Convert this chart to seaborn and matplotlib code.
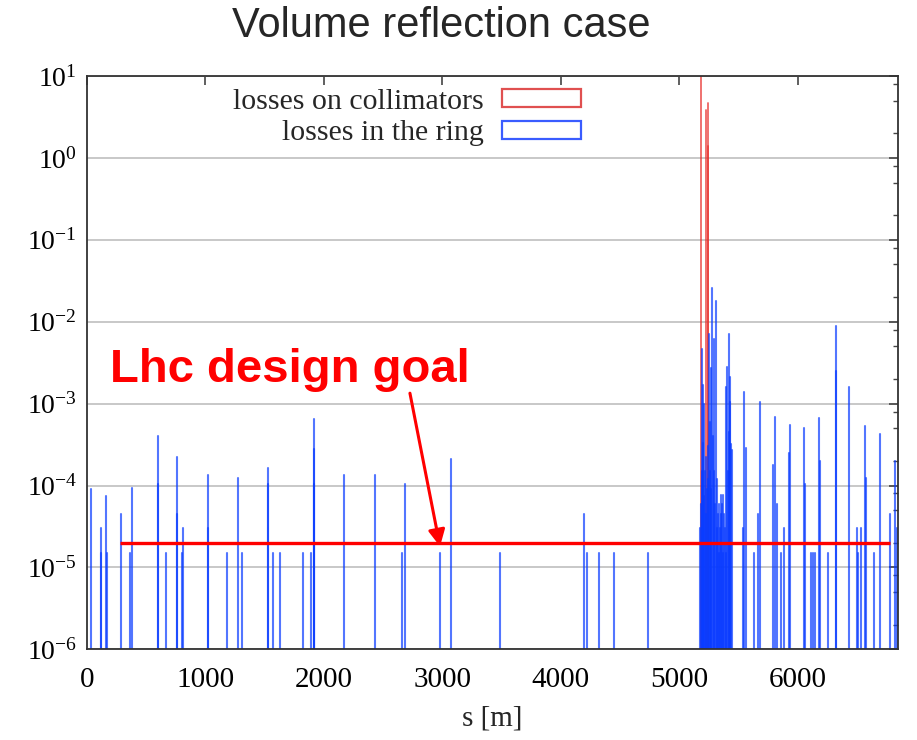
import numpy as np
import pandas as pd
import matplotlib
matplotlib.use("Agg")
import matplotlib.pyplot as plt
import seaborn as sns
from matplotlib.ticker import FixedLocator, NullFormatter, LogFormatterSciNotation
from matplotlib.patches import Patch

# ---------------- data ----------------
ring_s = [33, 121, 121, 162, 173, 286, 367, 379, 598, 598, 668, 764, 764, 801, 815,
          1020, 1020, 1186, 1276, 1313, 1532, 1532, 1569, 1633, 1827, 1889, 1915, 1915, 1915,
          2173, 2432, 2657, 2685, 2978, 3071, 3490, 4193, 4218, 4320, 4449, 4736,
          5178, 5183, 5189, 5193, 5197, 5200, 5205, 5210, 5216, 5222, 5228, 5234, 5240, 5246,
          5251, 5257, 5262, 5265, 5270, 5278, 5284, 5290, 5296, 5302, 5310, 5316, 5320, 5326,
          5332, 5338, 5344, 5349, 5355, 5360, 5366, 5373, 5379, 5385, 5391, 5397, 5405, 5411,
          5417, 5422, 5428, 5432, 5437, 5442,
          5540, 5549, 5563, 5630, 5667, 5681, 5794, 5805, 5822, 5861, 5884, 5923, 5934,
          6050, 6061, 6111, 6131, 6148, 6179, 6190, 6258, 6325, 6325, 6435, 6500, 6511,
          6531, 6565, 6576, 6643, 6691, 6781, 6822, 6834]
ring_loss = [9.0e-5, 3.0e-5, 1.5e-5, 7.5e-5, 1.5e-5, 4.5e-5, 1.5e-5, 9.3e-5, 4.0e-4, 1.05e-4,
             1.5e-5, 2.25e-4, 4.5e-5, 1.5e-5, 3.0e-5,
             1.35e-4, 3.0e-5, 1.5e-5, 1.22e-4, 1.5e-5, 1.65e-4, 1.05e-4, 1.5e-5, 1.5e-5, 1.5e-5,
             1.5e-5, 6.4e-4, 2.8e-4, 1.05e-4,
             1.35e-4, 1.35e-4, 1.5e-5, 1.05e-4, 1.5e-5, 2.1e-4, 1.5e-5, 4.5e-5, 1.5e-5, 1.5e-5,
             1.5e-5, 1.5e-5,
             3.0e-5, 6.0e-5, 4.6e-3, 1.5e-4, 1.7e-3, 3.3e-4, 7.5e-5, 1.0e-3, 1.5e-4, 4.5e-5,
             2.2e-4, 9.0e-5, 3.0e-4, 1.2e-4,
             7.1e-3, 6.0e-4, 1.5e-4, 2.7e-3, 9.0e-5, 2.6e-2, 4.0e-4, 6.2e-3, 1.5e-4, 6.0e-5,
             1.8e-2, 1.2e-4, 3.0e-5, 4.5e-5,
             1.5e-5, 6.0e-5, 3.0e-5, 7.6e-5, 4.5e-5, 6.0e-5, 1.5e-5, 7.6e-5, 4.5e-5, 3.0e-5,
             1.5e-5, 1.6e-3, 2.8e-3, 1.5e-4,
             4.5e-4, 7.1e-3, 1.05e-3, 2.1e-3, 3.2e-4, 2.7e-4,
             3.0e-5, 1.4e-3, 2.9e-4, 1.5e-5, 4.5e-5, 1.05e-3, 1.8e-4, 6.9e-4, 6.0e-5, 1.5e-5,
             3.0e-5, 2.5e-4, 5.5e-4,
             5.1e-4, 1.05e-4, 1.5e-5, 1.5e-5, 1.5e-5, 6.7e-4, 2.0e-4, 1.5e-5, 8.8e-3, 2.5e-3,
             1.6e-3, 3.0e-5, 1.5e-5,
             3.0e-5, 5.3e-4, 1.22e-4, 1.5e-5, 4.3e-4, 4.5e-5, 2.0e-4, 3.0e-5]
coll_s = [5180, 5225, 5240, 5245]
coll_loss = [15.0, 3.8, 4.7, 1.4]

goal_loss = 2e-5
goal_span = [280, 6780]
arrow_tip = (2981, 1.8e-5)
arrow_tail = (2727, 1.34e-3)

x_ticks = [0, 1000, 2000, 3000, 4000, 5000, 6000]
y_decades = [-6, -5, -4, -3, -2, -1, 0, 1]
y_minor_subs = [2, 5, 8]
x_range = (0, 6846)
y_range = (1e-6, 10)

series_labels = ["losses on collimators", "losses in the ring"]
title_text = "Volume reflection case"
goal_text = "Lhc design goal"
x_label = "s [m]"


def impulses(s, v, floor):
    n = len(s)
    return pd.DataFrame({
        "s": np.repeat(np.asarray(s, float), 2),
        "loss": np.column_stack([np.full(n, floor), np.asarray(v, float)]).ravel(),
        "unit": np.repeat(np.arange(n), 2),
    })


# ---------------- styling ----------------
sns.set_theme(style="white")
plt.rcParams["font.family"] = ["Liberation Serif", "DejaVu Serif"]
plt.rcParams["mathtext.fontset"] = "stix"

W, H = 917, 740
fig = plt.figure(figsize=(W / 100, H / 100), dpi=100)
ax_l, ax_r, ax_t, ax_b = 86.8, 898.0, 76.0, 649.3
ax = fig.add_axes([ax_l / W, 1 - ax_b / H, (ax_r - ax_l) / W, (ax_b - ax_t) / H])

red = "#e8322f"
blue = "#0a3cff"

coll_df = impulses(coll_s, coll_loss, y_range[0])
ring_df = impulses(ring_s, ring_loss, y_range[0])

sns.lineplot(data=coll_df, x="s", y="loss", units="unit", estimator=None, sort=False,
             color=red, lw=1.3, alpha=0.75, legend=False, ax=ax)
sns.lineplot(data=ring_df, x="s", y="loss", units="unit", estimator=None, sort=False,
             color=blue, lw=1.5, alpha=0.7, legend=False, ax=ax)

ax.set_yscale("log")
ax.set_xlim(*x_range)
ax.set_ylim(*y_range)

# design goal line + arrow
ax.plot(goal_span, [goal_loss, goal_loss], color="#ff0000", lw=2.4, zorder=6,
        solid_capstyle="butt")
ax.annotate("", xy=arrow_tip, xytext=arrow_tail,
            arrowprops=dict(arrowstyle="-|>", color="#ff0000", lw=2.2,
                            mutation_scale=25, shrinkA=0, shrinkB=0), zorder=7)

# axes decoration
major_y = [10.0 ** d for d in y_decades]
minor_y = [m * 10.0 ** d for d in y_decades[:-1] for m in y_minor_subs]
ax.xaxis.set_major_locator(FixedLocator(x_ticks))
ax.yaxis.set_major_locator(FixedLocator(major_y))
ax.yaxis.set_minor_locator(FixedLocator(minor_y))
ax.yaxis.set_minor_formatter(NullFormatter())
ax.yaxis.set_major_formatter(LogFormatterSciNotation())

ax.yaxis.grid(True, which="major", color="#c8c8c8", lw=1.4)
ax.xaxis.grid(False)
ax.set_axisbelow(True)

for sp in ax.spines.values():
    sp.set_color("#333333")
    sp.set_linewidth(1.3)

ax.tick_params(which="both", direction="in", top=True, right=True,
               color="#444444", labelcolor="black")
ax.tick_params(which="major", length=6.5, width=1.2, labelsize=21)
ax.tick_params(axis="y", which="major", labelsize=20)
ax.tick_params(axis="x", which="major", pad=13)
ax.tick_params(axis="y", which="major", pad=7)
ax.tick_params(which="minor", length=3.5, width=1.0)

ax.set_xlabel(x_label, fontsize=21)
ax.set_ylabel("")
ax.yaxis.label.set_visible(False)
ax.xaxis.set_label_coords(0.5, (ax_b - 718) / (ax_b - ax_t))
ax.xaxis.label.set_va("center")

# legend
handles = [Patch(facecolor="none", edgecolor="#e05050", lw=1.6, label=series_labels[0]),
           Patch(facecolor="none", edgecolor="#3a5cff", lw=1.6, label=series_labels[1])]
ax.legend(handles=handles, loc="center right",
          bbox_to_anchor=(580.7 / W, 1 - 117.5 / H), bbox_transform=fig.transFigure,
          frameon=False, markerfirst=False, fontsize=21.5, handlelength=2.65,
          handleheight=0.52, handletextpad=0.6, labelspacing=0.2,
          borderpad=0, borderaxespad=0)

# texts
fig.text(441 / W, 1 - 26 / H, title_text, ha="center", va="center", fontsize=30,
         family=["Liberation Sans", "DejaVu Sans"])
fig.text(110 / W, 1 - 382 / H, goal_text, ha="left", va="baseline", fontsize=34,
         fontweight="bold", color="#ff0000", family=["Liberation Sans", "DejaVu Sans"])

fig.savefig("out.png", dpi=100)
